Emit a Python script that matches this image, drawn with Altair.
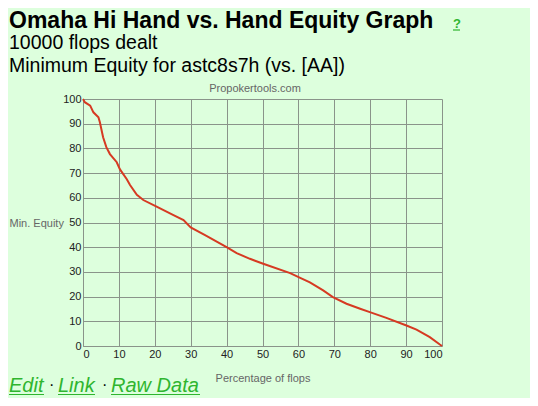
import altair as alt
import pandas as pd

# Data
pct = [0, 0.5, 2, 2.9, 4.3, 4.7, 5.6, 6.5, 7.5, 9.4, 10.3, 12.2, 13.1, 15, 16.8, 20.5,
       25.2, 28, 30, 34, 40, 42.8, 46.5, 50.2, 57.7, 60.5, 63.2, 66.9, 69.6, 73.4,
       77.2, 79.9, 84.5, 90.1, 92.9, 96.6, 99.4, 100]
equity = [100, 98.7, 97.3, 94.6, 92.6, 90.6, 84.5, 80.5, 77.7, 74.4, 71.5, 67.5, 65.2,
          61.2, 59.1, 56.4, 53, 51, 48, 44.9, 40, 37.6, 35.3, 33.3, 29.5, 27.6, 25.8,
          22.5, 19.8, 17.1, 15.1, 13.7, 11.4, 8.3, 6.6, 3.6, 0.6, 0]
ticks = list(range(0, 101, 10))

title_text = "Omaha Hi Hand vs. Hand Equity Graph"
sub1 = "10000 flops dealt"
sub2 = "Minimum Equity for astc8s7h (vs. [AA])"
watermark = "Propokertools.com"
links = ["Edit", "Link", "Raw Data"]

df = pd.DataFrame({"pct": pct, "equity": equity})

FONT = "Liberation Sans"
W, H = 359, 247
OX, OY = 83, 99  # plot origin on page (incl. 8px margin)
GREEN = "#2fb52f"
LX = 9  # left edge for texts (page has 8px margin)
LB = 392  # baseline of the links row


def px(x):
    return x - OX


def py(y):
    return y - OY


one = alt.Data(values=[{"a": 1}])


def txt(text, x, y, size, color="#000", weight="normal", style="normal", align="left"):
    return alt.Chart(one).mark_text(
        text=text, font=FONT, fontSize=size, color=color, fontWeight=weight,
        fontStyle=style, align=align, baseline="alphabetic"
    ).encode(x=alt.value(px(x)), y=alt.value(py(y)))


def uline(x1, x2, y, color=GREEN):
    return alt.Chart(one).mark_rule(color=color, strokeWidth=1.2).encode(
        x=alt.value(px(x1)), x2=alt.value(px(x2)), y=alt.value(py(y))
    )


line = alt.Chart(df).mark_line(color="#d63a22", strokeWidth=2).encode(
    x=alt.X("pct:Q", scale=alt.Scale(domain=[0, 100], nice=False),
            axis=alt.Axis(values=ticks, title="Percentage of flops", titleY=26,
                          titleX=W / 2)),
    y=alt.Y("equity:Q", scale=alt.Scale(domain=[0, 100], nice=False),
            axis=alt.Axis(values=ticks, title="Min. Equity", titleAngle=0,
                          titleAlign="left", titleBaseline="middle",
                          titleX=px(LX), titleY=py(223))),
)

layers = [
    line,
    txt(title_text, LX, 28, 23, weight="bold"),
    txt("?", 453, 28, 13, color=GREEN, weight="bold"),
    uline(453, 460, 30),
    txt(sub1, LX, 49, 19.5),
    txt(sub2, LX, 72, 19.5),
    txt(watermark, 255, 92, 11, color="#666", align="center"),
    txt(links[0], LX, LB, 20, color=GREEN, style="italic"),
    uline(LX, LX + 35, LB + 2.5),
    txt("·", 49, LB - 2, 16, color="#000"),
    txt(links[1], 58, LB, 20, color=GREEN, style="italic"),
    uline(58, 95, LB + 2.5),
    txt("·", 102, LB - 2, 16, color="#000"),
    txt(links[2], 111, LB, 20, color=GREEN, style="italic"),
    uline(111, 200, LB + 2.5),
]

chart = alt.layer(*layers).properties(
    width=W, height=H,
    autosize=alt.AutoSizeParams(type="none"),
    padding={"left": OX - 8, "top": OY - 8, "right": 538 - 16 - (OX - 8) - W,
             "bottom": 406 - 16 - (OY - 8) - H},
    background="#ddffdd",
).configure_view(strokeWidth=0).configure_axis(
    gridColor="#8a948a", gridOpacity=1, domainColor="#8a948a", ticks=False,
    labelFont=FONT, labelFontSize=11, labelColor="#222", labelPadding=2,
    titleFont=FONT, titleFontSize=11, titleColor="#666", titleFontWeight="normal",
)

chart.save("out.html", embed_options={"renderer": "svg", "actions": False})
